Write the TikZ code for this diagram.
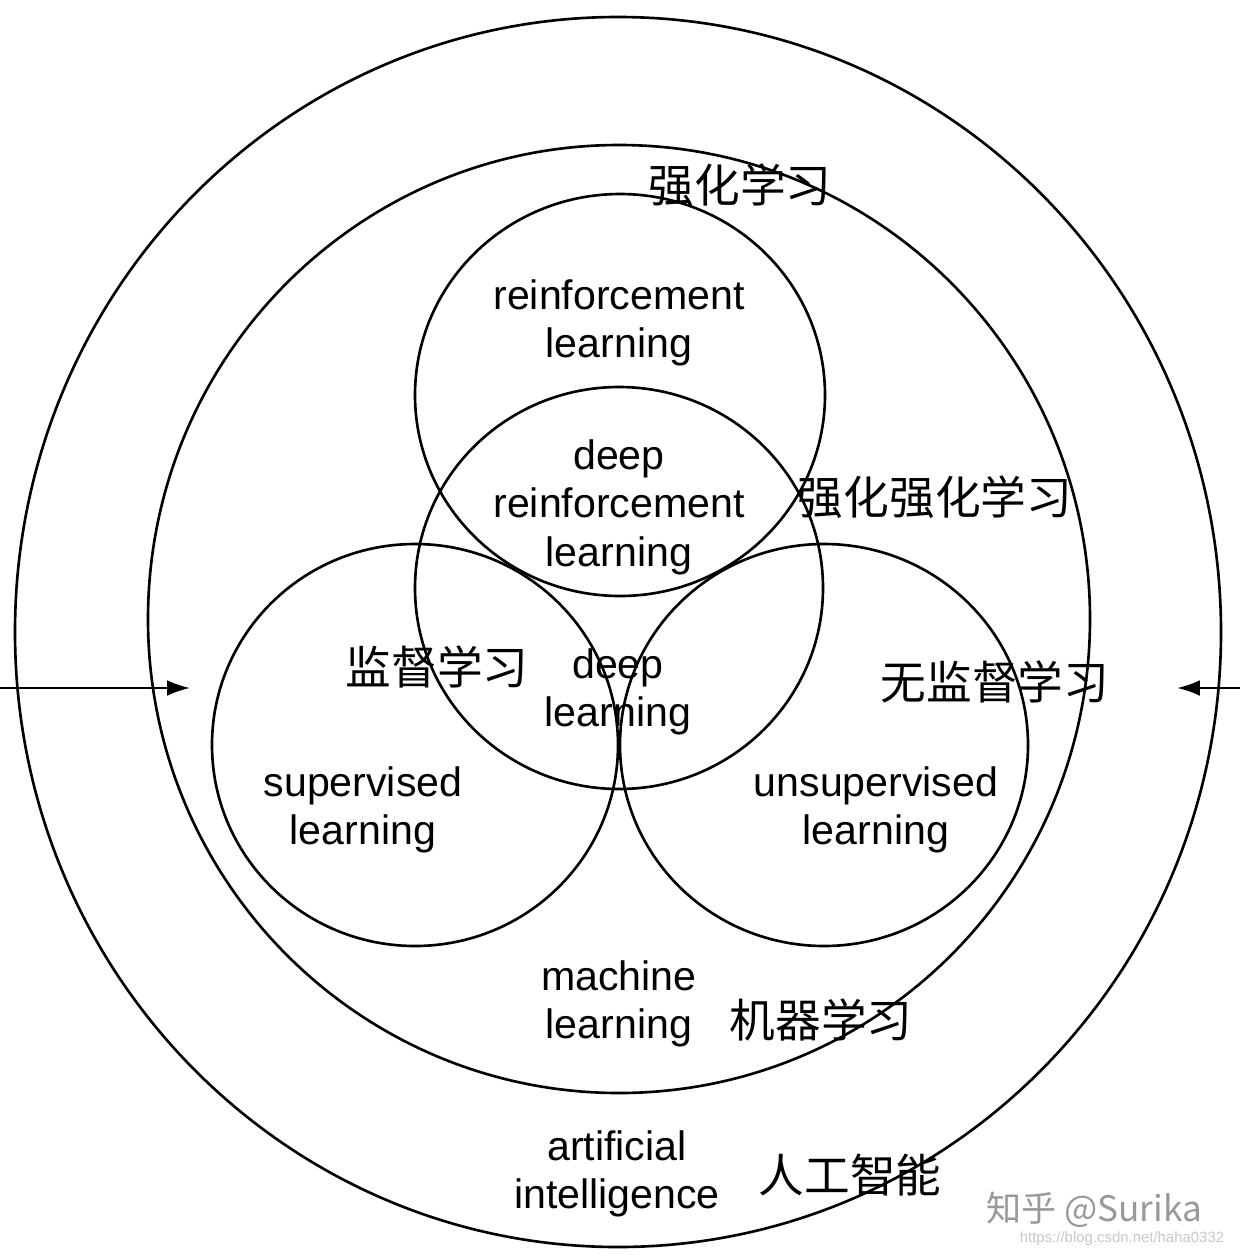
\documentclass[tikz,border=0pt]{standalone}
\usepackage{fontspec}
\setmainfont{Liberation Sans}
\newfontfamily\cjk{Noto Sans CJK SC}
\usetikzlibrary{arrows.meta}

\tikzset{
  ring/.style={line width=1.5pt},
  en/.style={align=center, inner sep=0pt, font=\fontsize{23.4pt}{27.6pt}\selectfont},
  zh/.style={inner sep=0pt, font=\cjk\fontsize{26pt}{30pt}\selectfont},
  pointer/.style={line width=1.4pt, -{Latex[length=13pt,width=9pt]}},
  wm/.style={inner sep=0pt, text=black!40}
}

\begin{document}
\begin{tikzpicture}[x=0.02cm, y=-0.02cm]
  \useasboundingbox (0,0) rectangle (1240,1258);

  % rings
  \draw[ring] (618,632) ellipse [x radius=603, y radius=615];
  \draw[ring] (619,619) ellipse [x radius=471, y radius=474];
  \draw[ring] (620,395) ellipse [x radius=205, y radius=201];
  \draw[ring] (619,588) ellipse [x radius=204, y radius=201];
  \draw[ring] (415,745) ellipse [x radius=203, y radius=201];
  \draw[ring] (824,745) ellipse [x radius=204, y radius=201];

  % english labels
  \node[en] (rl)  at (619,323) {reinforcement\\learning};
  \node[en] (drl) at (619,507) {deep\\reinforcement\\learning};
  \node[en] (dl)  at (618,692) {deep\\learning};
  \node[en] (sl)  at (363,810) {supervised\\learning};
  \node[en] (ul)  at (876,810) {unsupervised\\learning};
  \node[en] (ml)  at (619,1004) {machine\\learning};
  \node[en] (ai)  at (617,1174) {artificial\\intelligence};

  % chinese labels
  \node[zh] (rlzh)  at (740,185) {强化学习};
  \node[zh] (drlzh) at (935,497) {强化强化学习};
  \node[zh] (slzh)  at (437,667) {监督学习};
  \node[zh] (ulzh)  at (995,682) {无监督学习};
  \node[zh] (mlzh)  at (821,1020) {机器学习};
  \node[zh] (aizh)  at (850,1175) {人工智能};

  % arrows from the sides
  \coordinate (lstart) at (0,688);
  \coordinate (lend) at (190,688);
  \coordinate (rstart) at (1240,688);
  \coordinate (rend) at (1177,688);
  \draw[pointer] (lstart) -- (lend);
  \draw[pointer] (rstart) -- (rend);

  % watermark
  \node[wm, font=\cjk\fontsize{20pt}{24pt}\selectfont] (zhihu) at (1094,1210) {知乎 @Surika};
  \node[wm, text=black!22, font=\fontsize{8.5pt}{10pt}\selectfont] (csdn) at (1122,1239) {https://blog.csdn.net/haha0332};
\end{tikzpicture}
\end{document}
